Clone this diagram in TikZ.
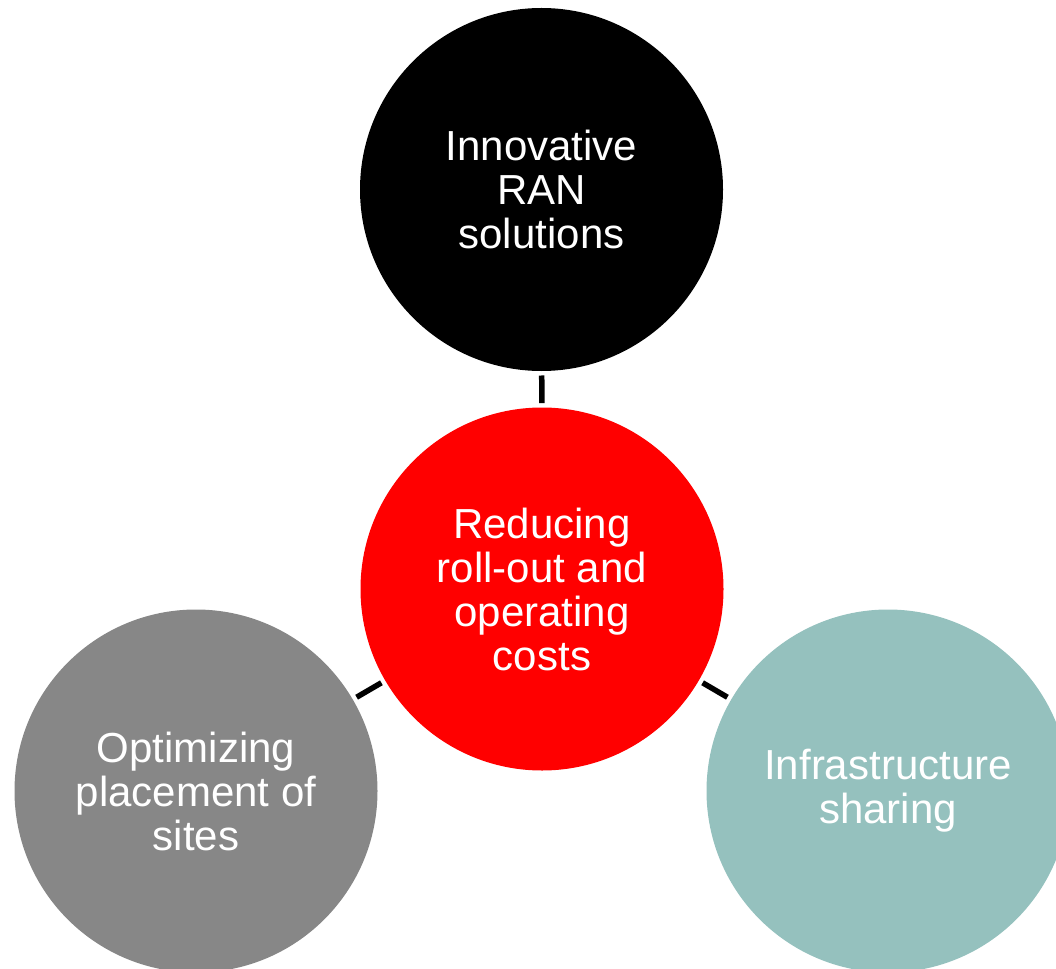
\documentclass[tikz,border=0pt]{standalone}
\usepackage{fontspec}
\setmainfont{Liberation Sans}
\definecolor{hubred}{HTML}{FF0000}
\definecolor{sidegray}{HTML}{878787}
\definecolor{sideteal}{HTML}{95C1BE}
\begin{document}
\begin{tikzpicture}[x=1pt,y=-1pt,
  bubble/.style={circle, minimum size=363pt, inner sep=0pt, outer sep=0pt,
    align=center, text=white, font=\fontsize{42}{44}\selectfont},
  link/.style={draw=black, line width=5.5pt, shorten <=4.5pt, shorten >=4.5pt}]
  \clip (0,0) rectangle (1056,968);
  \useasboundingbox (0,0) rectangle (1056,968);

  % the central topic and the three levers around it
  \node[bubble, fill=hubred]   (hub)   at (542,589)   {Reducing\\roll-out and\\operating\\costs};
  \node[bubble, fill=black]    (ran)   at (541.5,189.5) {Innovative\\RAN\\solutions};
  \node[bubble, fill=sidegray] (sites) at (196,791)   {Optimizing\\placement of\\sites};
  \node[bubble, fill=sideteal] (share) at (888,791)   {Infrastructure\\sharing};

  % short spokes joining the hub to each lever
  \draw[link] (ran) -- (hub);
  \draw[link] (hub) -- (sites);
  \draw[link] (hub) -- (share);
\end{tikzpicture}
\end{document}
